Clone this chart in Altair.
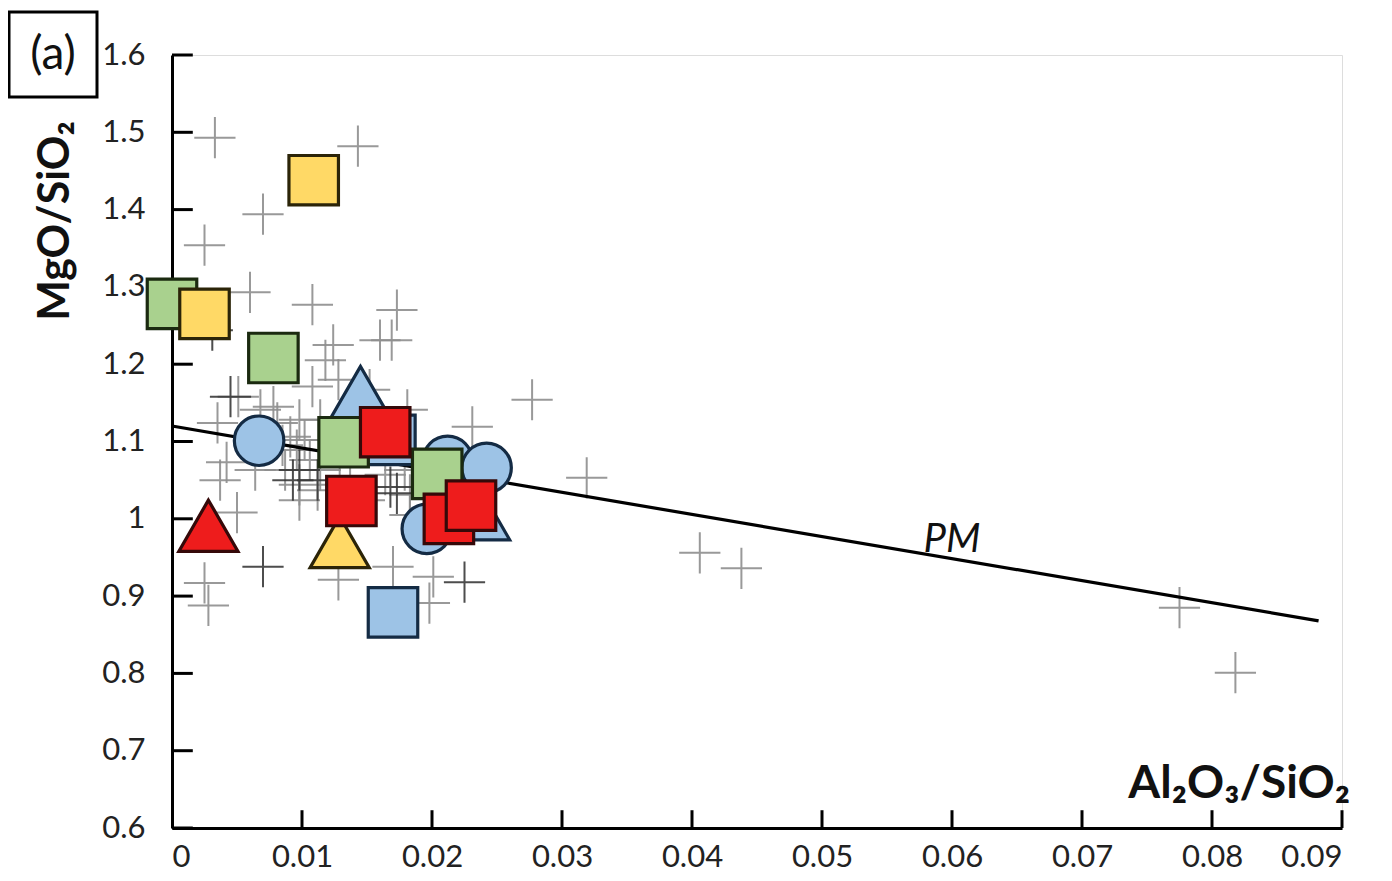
import altair as alt
import pandas as pd

# ---------------- data ----------------
x_ticks = [0, 0.01, 0.02, 0.03, 0.04, 0.05, 0.06, 0.07, 0.08, 0.09]
y_ticks = [0.6, 0.7, 0.8, 0.9, 1.0, 1.1, 1.2, 1.3, 1.4, 1.5, 1.6]

# light grey crosses (literature data)
cross_gray_x = [0.0033, 0.0143, 0.0070, 0.0025, 0.0060, 0.0108, 0.0173, 0.0124, 0.0118, 0.0160,
                0.0169, 0.0128, 0.0108, 0.0051, 0.0035, 0.0042, 0.0078, 0.0091, 0.0096, 0.0081,
                0.0181, 0.0231, 0.0277, 0.0319, 0.0406, 0.0438, 0.0775, 0.0818, 0.0025, 0.0028,
                0.0050, 0.0128, 0.0170, 0.0201, 0.0198, 0.0164, 0.0114, 0.0129, 0.0106, 0.0102,
                0.0114, 0.0137, 0.0148, 0.0183, 0.0085, 0.0098, 0.0037, 0.0068, 0.0152, 0.0137,
                0.0122, 0.0112, 0.0098, 0.0179, 0.0183, 0.0064, 0.0087, 0.0098]
cross_gray_y = [1.493, 1.482, 1.394, 1.354, 1.293, 1.277, 1.270, 1.225, 1.205, 1.231,
                1.231, 1.180, 1.171, 1.158, 1.124, 1.073, 1.145, 1.106, 1.089, 1.124,
                1.141, 1.119, 1.154, 1.053, 0.956, 0.936, 0.885, 0.801, 0.917, 0.888,
                1.008, 0.921, 0.938, 0.925, 0.891, 1.057, 1.063, 1.044, 1.076, 1.102,
                1.128, 1.128, 1.024, 1.031, 1.095, 1.024, 1.050, 1.141, 1.167, 1.083,
                1.102, 1.037, 1.044, 1.063, 1.005, 1.063, 1.063, 1.128]

# darker crosses
cross_dark_x = [0.0070, 0.0225, 0.0045, 0.0093, 0.0031, 0.0168, 0.0173, 0.0098, 0.0112]
cross_dark_y = [0.938, 0.918, 1.158, 1.050, 1.244, 1.041, 1.033, 1.063, 1.050]

# big symbols
groups = ["blue", "green", "yellow", "red"]
fill_colors = ["#9dc3e6", "#a9d18e", "#ffd966", "#ee1c1c"]
stroke_colors = ["#142b44", "#1b2a10", "#2b2408", "#350909"]

circle_x = [0.0067, 0.0196, 0.0212, 0.0242]
circle_y = [1.101, 0.987, 1.075, 1.066]
circle_g = ["blue", "blue", "blue", "blue"]

triangle_x = [0.0145, 0.0237, 0.0129, 0.0028]
triangle_y = [1.164, 1.006, 0.970, 0.991]
triangle_g = ["blue", "blue", "yellow", "red"]

square_x = [0.0170, 0.0168, 0.0000, 0.0078, 0.0132, 0.0204, 0.0109, 0.0025, 0.0164, 0.0138, 0.0213, 0.0230]
square_y = [0.879, 1.102, 1.278, 1.208, 1.099, 1.058, 1.438, 1.265, 1.112, 1.023, 1.000, 1.017]
square_g = ["blue", "blue", "green", "green", "green", "green", "yellow", "yellow", "red", "red", "red", "red"]

# primitive mantle (PM) line
pm_x = [0.0, 0.0882]
pm_y = [1.12, 0.868]
pm_label = ["PM"]
pm_label_x = [0.0600]
pm_label_y = [0.9726]

# ---------------- chart ----------------
W, H = 1170, 773
FONT = "Lato, 'Noto Sans', sans-serif"

xs = alt.Scale(domain=[0, 0.09], nice=False, zero=False)
ys = alt.Scale(domain=[0.6, 1.6], nice=False, zero=False)

xaxis = alt.Axis(values=x_ticks, format="~g", title=None, grid=False, ticks=False, tickSize=0,
                 domainColor="black", domainWidth=3, labelFont=FONT, labelFontSize=31,
                 labelColor="#222222", labelPadding=14)
yaxis = alt.Axis(values=y_ticks, format="~g", title=None, grid=False, ticks=False, tickSize=0,
                 domainColor="black", domainWidth=3, labelFont=FONT, labelFontSize=31,
                 labelColor="#222222", labelPadding=27)

cross_path = "M-1,0L1,0M0,-1L0,1"

gray_df = pd.DataFrame({"x": cross_gray_x, "y": cross_gray_y})
dark_df = pd.DataFrame({"x": cross_dark_x, "y": cross_dark_y})

base_x = alt.X("x:Q", scale=xs, axis=xaxis)
base_y = alt.Y("y:Q", scale=ys, axis=yaxis)

gray = alt.Chart(gray_df).mark_point(shape=cross_path, size=1700, filled=False,
                                     stroke="#8f8f8f", strokeWidth=2, opacity=0.9).encode(x=base_x, y=base_y)
dark = alt.Chart(dark_df).mark_point(shape=cross_path, size=1700, filled=False,
                                     stroke="#3a3a3a", strokeWidth=2, opacity=0.9).encode(x="x:Q", y="y:Q")

pm_df = pd.DataFrame({"x": pm_x, "y": pm_y})
pm_line = alt.Chart(pm_df).mark_line(color="black", strokeWidth=3.2).encode(x="x:Q", y="y:Q")

ytick_df = pd.DataFrame({"y": y_ticks, "x0": [0.0] * len(y_ticks), "x1": [0.0016] * len(y_ticks)})
ytick = alt.Chart(ytick_df).mark_rule(color="black", strokeWidth=3).encode(x="x0:Q", x2="x1:Q", y="y:Q")
xtick_df = pd.DataFrame({"x": x_ticks[1:], "y0": [0.6] * (len(x_ticks) - 1), "y1": [0.623] * (len(x_ticks) - 1)})
xtick = alt.Chart(xtick_df).mark_rule(color="black", strokeWidth=3).encode(x="x:Q", y="y0:Q", y2="y1:Q")

fill_scale = alt.Scale(domain=groups, range=fill_colors)
stroke_scale = alt.Scale(domain=groups, range=stroke_colors)


def sym(xv, yv, gv, shape, size):
    df = pd.DataFrame({"x": xv, "y": yv, "g": gv, "o": list(range(len(xv)))})
    return alt.Chart(df).mark_point(shape=shape, size=size, filled=True, opacity=1,
                                    strokeWidth=3.2).encode(
        x="x:Q", y="y:Q",
        fill=alt.Fill("g:N", scale=fill_scale, legend=None),
        stroke=alt.Stroke("g:N", scale=stroke_scale, legend=None),
        order=alt.Order("o:Q"),
    )


circles = sym(circle_x, circle_y, circle_g, "circle", 2450)
triangles = sym(triangle_x, triangle_y, triangle_g, "triangle-up", 3500)
squares = sym(square_x, square_y, square_g, "square", 2450)

pm_text = alt.Chart(pd.DataFrame({"t": pm_label, "x": pm_label_x, "y": pm_label_y})).mark_text(
    font=FONT, fontSize=40, fontStyle="italic", color="#111111", baseline="middle", align="center"
).encode(x="x:Q", y="y:Q", text="t:N")

xtitle = alt.Chart(pd.DataFrame({"t": ["Al₂O₃/SiO₂"]})).mark_text(
    font=FONT, fontSize=46, fontWeight="bold", color="#111111", align="right", baseline="alphabetic"
).encode(x=alt.value(1178), y=alt.value(743), text="t:N")

ytitle = alt.Chart(pd.DataFrame({"t": ["MgO/SiO₂"]})).mark_text(
    font=FONT, fontSize=43, fontWeight="bold", color="#111111", align="center", baseline="alphabetic",
    angle=270
).encode(x=alt.value(-103), y=alt.value(166), text="t:N")

box = alt.Chart(pd.DataFrame({"t": ["(a)"]})).mark_rect(filled=False, stroke="black", strokeWidth=3).encode(
    x=alt.value(-163), x2=alt.value(-75), y=alt.value(-43), y2=alt.value(42))
box_text = alt.Chart(pd.DataFrame({"t": ["(a)"]})).mark_text(
    font=FONT, fontSize=46, color="#111111", align="center", baseline="middle"
).encode(x=alt.value(-119), y=alt.value(0), text="t:N")

chart = alt.layer(
    gray, dark, pm_line, ytick, xtick, circles, triangles, squares, pm_text, xtitle, ytitle, box, box_text
).properties(
    width=W, height=H,
    autosize=alt.AutoSizeParams(type="none"),
    padding={"left": 164, "top": 47, "right": 30, "bottom": 45},
).configure_view(stroke=None).configure(background="white")

chart.save("out.html", embed_options={"renderer": "svg", "actions": False})
